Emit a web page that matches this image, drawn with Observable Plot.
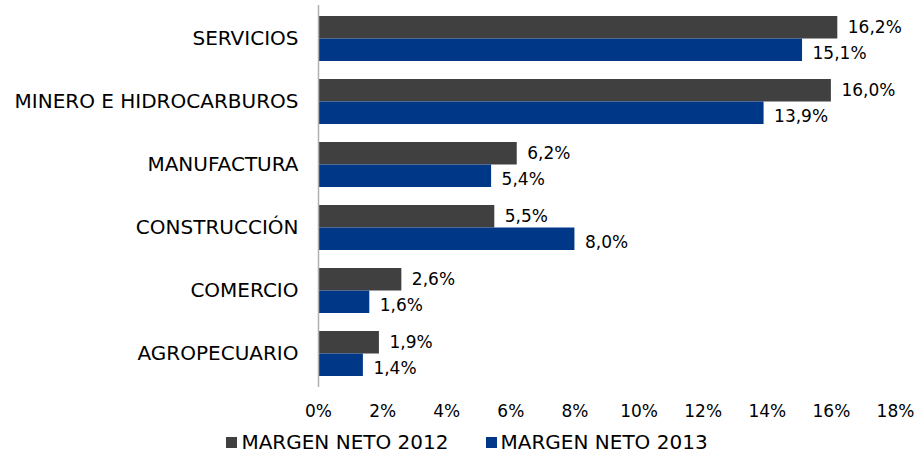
<!DOCTYPE html>
<html><head><meta charset="utf-8">
<script src="https://cdn.jsdelivr.net/npm/d3@7"></script>
<script src="https://cdn.jsdelivr.net/npm/@observablehq/plot@0.6"></script>
<style>
body{margin:0;background:#fff;font-family:"DejaVu Sans",Verdana,sans-serif;}
#legend{display:flex;justify-content:center;gap:37px;font-size:20px;color:#000;margin-top:6px;margin-left:18px}
#legend span.sw{display:inline-block;width:11px;height:11px;margin-right:4px;vertical-align:1px}
</style></head>
<body><div id="chart"></div>
<div id="legend"></div>
<script>
const categories = ["SERVICIOS","MINERO E HIDROCARBUROS","MANUFACTURA","CONSTRUCCIÓN","COMERCIO","AGROPECUARIO"];
const margen2012 = [16.2, 16.0, 6.2, 5.5, 2.6, 1.9];
const margen2013 = [15.1, 13.9, 5.4, 8.0, 1.6, 1.4];
const seriesNames = ["MARGEN NETO 2012","MARGEN NETO 2013"];
const seriesColors = ["#404040","#003887"];
const xTicks = [0,2,4,6,8,10,12,14,16,18];

const d12 = categories.map((c,i)=>({cat:c, v:margen2012[i]}));
const d13 = categories.map((c,i)=>({cat:c, v:margen2013[i]}));
const fmt = v => v.toFixed(1).replace(".", ",") + "%";

const plot = Plot.plot({
  width: 916, height: 424,
  marginTop: 5, marginBottom: 37, marginLeft: 318, marginRight: 21,
  style: {fontFamily: '"DejaVu Sans", Verdana, sans-serif', fontSize: "17px", color: "#000"},
  x: {domain: [0, 18], label: null},
  y: {domain: categories, paddingInner: 0.29, paddingOuter: 0.16, label: null},
  marks: [
    Plot.barX(d12, {y: "cat", x: "v", fill: seriesColors[0], insetBottom: 22.5}),
    Plot.barX(d13, {y: "cat", x: "v", fill: seriesColors[1], insetTop: 22.5}),
    Plot.text(d12, {y: "cat", x: "v", text: d => fmt(d.v), dx: 10, dy: -11, textAnchor: "start", fontSize: 17, fill: "#000"}),
    Plot.text(d13, {y: "cat", x: "v", text: d => fmt(d.v), dx: 10, dy: 15, textAnchor: "start", fontSize: 17, fill: "#000"}),
    Plot.axisX({ticks: xTicks, tickFormat: d => d + "%", tickSize: 0, tickPadding: 17, fontSize: 17, label: null}),
    Plot.axisY({tickSize: 0, tickPadding: 20, fontSize: 20, label: null}),
    Plot.ruleX([0], {stroke: "#b0b0b0", strokeWidth: 1.5})
  ]
});
document.getElementById("chart").appendChild(plot);

const lg = document.getElementById("legend");
seriesNames.forEach((n,i)=>{
  const d = document.createElement("div");
  d.innerHTML = `<span class="sw" style="background:${seriesColors[i]}"></span>${n}`;
  lg.appendChild(d);
});
</script></body></html>
